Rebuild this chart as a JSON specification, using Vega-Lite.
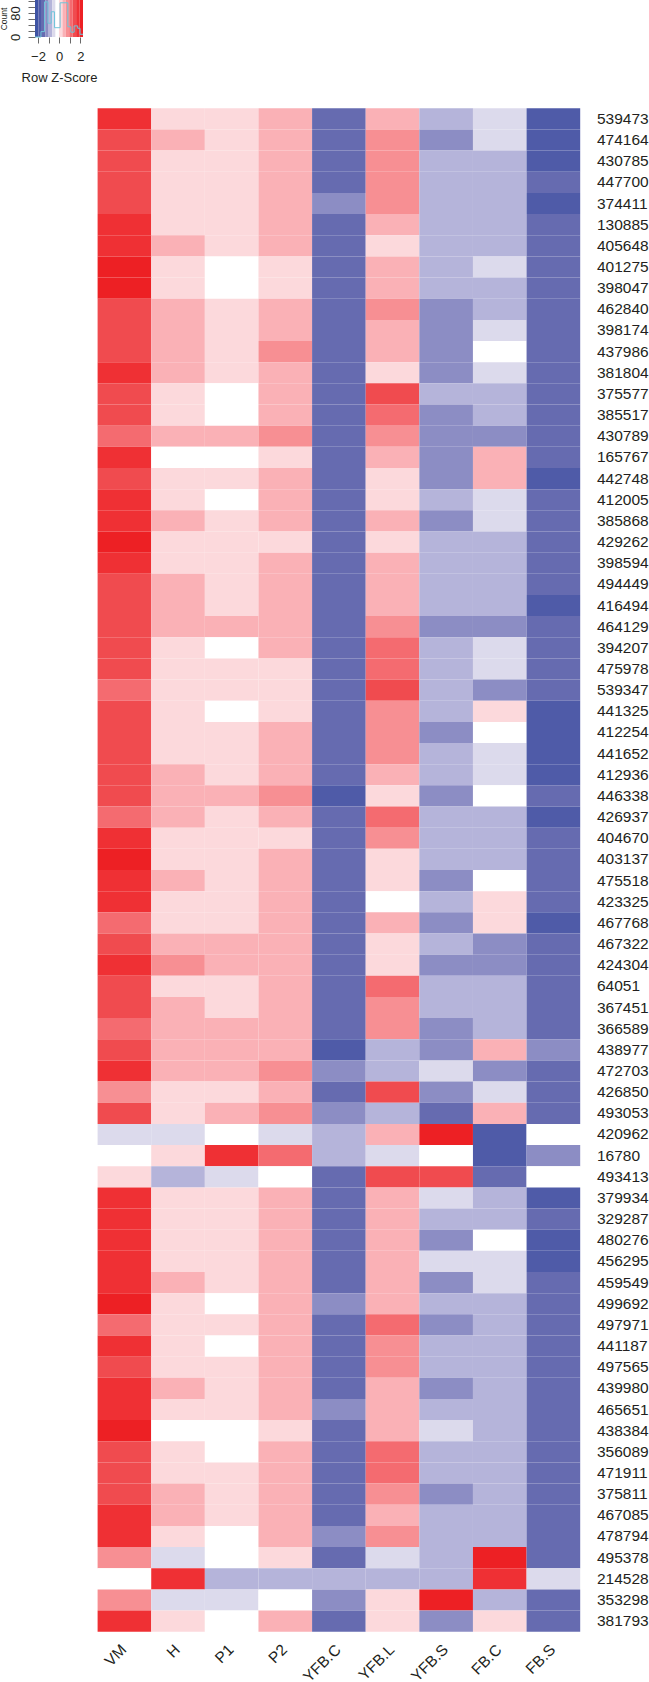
{"$schema":"https://vega.github.io/schema/vega-lite/v6.json","width":649,"height":1682,"padding":0,"autosize":{"type":"none"},"background":"white","config":{"view":{"stroke":null},"font":"Liberation Sans","axis":{"grid":false,"labelFont":"Liberation Sans","titleFont":"Liberation Sans","labelColor":"#231f20","titleColor":"#231f20"}},
"datasets":{"cells":[
{"gene":"539473","sample":"VM","z":2},{"gene":"539473","sample":"H","z":0.3},{"gene":"539473","sample":"P1","z":0.3},{"gene":"539473","sample":"P2","z":0.7},{"gene":"539473","sample":"YFB.C","z":-1.3},{"gene":"539473","sample":"YFB.L","z":0.7},{"gene":"539473","sample":"YFB.S","z":-0.7},{"gene":"539473","sample":"FB.C","z":-0.3},{"gene":"539473","sample":"FB.S","z":-1.7},
{"gene":"474164","sample":"VM","z":1.7},{"gene":"474164","sample":"H","z":0.7},{"gene":"474164","sample":"P1","z":0.3},{"gene":"474164","sample":"P2","z":0.7},{"gene":"474164","sample":"YFB.C","z":-1.3},{"gene":"474164","sample":"YFB.L","z":1},{"gene":"474164","sample":"YFB.S","z":-1},{"gene":"474164","sample":"FB.C","z":-0.3},{"gene":"474164","sample":"FB.S","z":-1.7},
{"gene":"430785","sample":"VM","z":1.7},{"gene":"430785","sample":"H","z":0.3},{"gene":"430785","sample":"P1","z":0.3},{"gene":"430785","sample":"P2","z":0.7},{"gene":"430785","sample":"YFB.C","z":-1.3},{"gene":"430785","sample":"YFB.L","z":1},{"gene":"430785","sample":"YFB.S","z":-0.7},{"gene":"430785","sample":"FB.C","z":-0.7},{"gene":"430785","sample":"FB.S","z":-1.7},
{"gene":"447700","sample":"VM","z":1.7},{"gene":"447700","sample":"H","z":0.3},{"gene":"447700","sample":"P1","z":0.3},{"gene":"447700","sample":"P2","z":0.7},{"gene":"447700","sample":"YFB.C","z":-1.3},{"gene":"447700","sample":"YFB.L","z":1},{"gene":"447700","sample":"YFB.S","z":-0.7},{"gene":"447700","sample":"FB.C","z":-0.7},{"gene":"447700","sample":"FB.S","z":-1.3},
{"gene":"374411","sample":"VM","z":1.7},{"gene":"374411","sample":"H","z":0.3},{"gene":"374411","sample":"P1","z":0.3},{"gene":"374411","sample":"P2","z":0.7},{"gene":"374411","sample":"YFB.C","z":-1},{"gene":"374411","sample":"YFB.L","z":1},{"gene":"374411","sample":"YFB.S","z":-0.7},{"gene":"374411","sample":"FB.C","z":-0.7},{"gene":"374411","sample":"FB.S","z":-1.7},
{"gene":"130885","sample":"VM","z":2},{"gene":"130885","sample":"H","z":0.3},{"gene":"130885","sample":"P1","z":0.3},{"gene":"130885","sample":"P2","z":0.7},{"gene":"130885","sample":"YFB.C","z":-1.3},{"gene":"130885","sample":"YFB.L","z":0.7},{"gene":"130885","sample":"YFB.S","z":-0.7},{"gene":"130885","sample":"FB.C","z":-0.7},{"gene":"130885","sample":"FB.S","z":-1.3},
{"gene":"405648","sample":"VM","z":2},{"gene":"405648","sample":"H","z":0.7},{"gene":"405648","sample":"P1","z":0.3},{"gene":"405648","sample":"P2","z":0.7},{"gene":"405648","sample":"YFB.C","z":-1.3},{"gene":"405648","sample":"YFB.L","z":0.3},{"gene":"405648","sample":"YFB.S","z":-0.7},{"gene":"405648","sample":"FB.C","z":-0.7},{"gene":"405648","sample":"FB.S","z":-1.3},
{"gene":"401275","sample":"VM","z":2.3},{"gene":"401275","sample":"H","z":0.3},{"gene":"401275","sample":"P1","z":0},{"gene":"401275","sample":"P2","z":0.3},{"gene":"401275","sample":"YFB.C","z":-1.3},{"gene":"401275","sample":"YFB.L","z":0.7},{"gene":"401275","sample":"YFB.S","z":-0.7},{"gene":"401275","sample":"FB.C","z":-0.3},{"gene":"401275","sample":"FB.S","z":-1.3},
{"gene":"398047","sample":"VM","z":2.3},{"gene":"398047","sample":"H","z":0.3},{"gene":"398047","sample":"P1","z":0},{"gene":"398047","sample":"P2","z":0.3},{"gene":"398047","sample":"YFB.C","z":-1.3},{"gene":"398047","sample":"YFB.L","z":0.7},{"gene":"398047","sample":"YFB.S","z":-0.7},{"gene":"398047","sample":"FB.C","z":-0.7},{"gene":"398047","sample":"FB.S","z":-1.3},
{"gene":"462840","sample":"VM","z":1.7},{"gene":"462840","sample":"H","z":0.7},{"gene":"462840","sample":"P1","z":0.3},{"gene":"462840","sample":"P2","z":0.7},{"gene":"462840","sample":"YFB.C","z":-1.3},{"gene":"462840","sample":"YFB.L","z":1},{"gene":"462840","sample":"YFB.S","z":-1},{"gene":"462840","sample":"FB.C","z":-0.7},{"gene":"462840","sample":"FB.S","z":-1.3},
{"gene":"398174","sample":"VM","z":1.7},{"gene":"398174","sample":"H","z":0.7},{"gene":"398174","sample":"P1","z":0.3},{"gene":"398174","sample":"P2","z":0.7},{"gene":"398174","sample":"YFB.C","z":-1.3},{"gene":"398174","sample":"YFB.L","z":0.7},{"gene":"398174","sample":"YFB.S","z":-1},{"gene":"398174","sample":"FB.C","z":-0.3},{"gene":"398174","sample":"FB.S","z":-1.3},
{"gene":"437986","sample":"VM","z":1.7},{"gene":"437986","sample":"H","z":0.7},{"gene":"437986","sample":"P1","z":0.3},{"gene":"437986","sample":"P2","z":1},{"gene":"437986","sample":"YFB.C","z":-1.3},{"gene":"437986","sample":"YFB.L","z":0.7},{"gene":"437986","sample":"YFB.S","z":-1},{"gene":"437986","sample":"FB.C","z":0},{"gene":"437986","sample":"FB.S","z":-1.3},
{"gene":"381804","sample":"VM","z":2},{"gene":"381804","sample":"H","z":0.7},{"gene":"381804","sample":"P1","z":0.3},{"gene":"381804","sample":"P2","z":0.7},{"gene":"381804","sample":"YFB.C","z":-1.3},{"gene":"381804","sample":"YFB.L","z":0.3},{"gene":"381804","sample":"YFB.S","z":-1},{"gene":"381804","sample":"FB.C","z":-0.3},{"gene":"381804","sample":"FB.S","z":-1.3},
{"gene":"375577","sample":"VM","z":1.7},{"gene":"375577","sample":"H","z":0.3},{"gene":"375577","sample":"P1","z":0},{"gene":"375577","sample":"P2","z":0.7},{"gene":"375577","sample":"YFB.C","z":-1.3},{"gene":"375577","sample":"YFB.L","z":1.7},{"gene":"375577","sample":"YFB.S","z":-0.7},{"gene":"375577","sample":"FB.C","z":-0.7},{"gene":"375577","sample":"FB.S","z":-1.3},
{"gene":"385517","sample":"VM","z":1.7},{"gene":"385517","sample":"H","z":0.3},{"gene":"385517","sample":"P1","z":0},{"gene":"385517","sample":"P2","z":0.7},{"gene":"385517","sample":"YFB.C","z":-1.3},{"gene":"385517","sample":"YFB.L","z":1.3},{"gene":"385517","sample":"YFB.S","z":-1},{"gene":"385517","sample":"FB.C","z":-0.7},{"gene":"385517","sample":"FB.S","z":-1.3},
{"gene":"430789","sample":"VM","z":1.3},{"gene":"430789","sample":"H","z":0.7},{"gene":"430789","sample":"P1","z":0.7},{"gene":"430789","sample":"P2","z":1},{"gene":"430789","sample":"YFB.C","z":-1.3},{"gene":"430789","sample":"YFB.L","z":1},{"gene":"430789","sample":"YFB.S","z":-1},{"gene":"430789","sample":"FB.C","z":-1},{"gene":"430789","sample":"FB.S","z":-1.3},
{"gene":"165767","sample":"VM","z":2},{"gene":"165767","sample":"H","z":0},{"gene":"165767","sample":"P1","z":0},{"gene":"165767","sample":"P2","z":0.3},{"gene":"165767","sample":"YFB.C","z":-1.3},{"gene":"165767","sample":"YFB.L","z":0.7},{"gene":"165767","sample":"YFB.S","z":-1},{"gene":"165767","sample":"FB.C","z":0.7},{"gene":"165767","sample":"FB.S","z":-1.3},
{"gene":"442748","sample":"VM","z":1.7},{"gene":"442748","sample":"H","z":0.3},{"gene":"442748","sample":"P1","z":0.3},{"gene":"442748","sample":"P2","z":0.7},{"gene":"442748","sample":"YFB.C","z":-1.3},{"gene":"442748","sample":"YFB.L","z":0.3},{"gene":"442748","sample":"YFB.S","z":-1},{"gene":"442748","sample":"FB.C","z":0.7},{"gene":"442748","sample":"FB.S","z":-1.7},
{"gene":"412005","sample":"VM","z":2},{"gene":"412005","sample":"H","z":0.3},{"gene":"412005","sample":"P1","z":0},{"gene":"412005","sample":"P2","z":0.7},{"gene":"412005","sample":"YFB.C","z":-1.3},{"gene":"412005","sample":"YFB.L","z":0.3},{"gene":"412005","sample":"YFB.S","z":-0.7},{"gene":"412005","sample":"FB.C","z":-0.3},{"gene":"412005","sample":"FB.S","z":-1.3},
{"gene":"385868","sample":"VM","z":2},{"gene":"385868","sample":"H","z":0.7},{"gene":"385868","sample":"P1","z":0.3},{"gene":"385868","sample":"P2","z":0.7},{"gene":"385868","sample":"YFB.C","z":-1.3},{"gene":"385868","sample":"YFB.L","z":0.7},{"gene":"385868","sample":"YFB.S","z":-1},{"gene":"385868","sample":"FB.C","z":-0.3},{"gene":"385868","sample":"FB.S","z":-1.3},
{"gene":"429262","sample":"VM","z":2.3},{"gene":"429262","sample":"H","z":0.3},{"gene":"429262","sample":"P1","z":0.3},{"gene":"429262","sample":"P2","z":0.3},{"gene":"429262","sample":"YFB.C","z":-1.3},{"gene":"429262","sample":"YFB.L","z":0.3},{"gene":"429262","sample":"YFB.S","z":-0.7},{"gene":"429262","sample":"FB.C","z":-0.7},{"gene":"429262","sample":"FB.S","z":-1.3},
{"gene":"398594","sample":"VM","z":2},{"gene":"398594","sample":"H","z":0.3},{"gene":"398594","sample":"P1","z":0.3},{"gene":"398594","sample":"P2","z":0.7},{"gene":"398594","sample":"YFB.C","z":-1.3},{"gene":"398594","sample":"YFB.L","z":0.7},{"gene":"398594","sample":"YFB.S","z":-0.7},{"gene":"398594","sample":"FB.C","z":-0.7},{"gene":"398594","sample":"FB.S","z":-1.3},
{"gene":"494449","sample":"VM","z":1.7},{"gene":"494449","sample":"H","z":0.7},{"gene":"494449","sample":"P1","z":0.3},{"gene":"494449","sample":"P2","z":0.7},{"gene":"494449","sample":"YFB.C","z":-1.3},{"gene":"494449","sample":"YFB.L","z":0.7},{"gene":"494449","sample":"YFB.S","z":-0.7},{"gene":"494449","sample":"FB.C","z":-0.7},{"gene":"494449","sample":"FB.S","z":-1.3},
{"gene":"416494","sample":"VM","z":1.7},{"gene":"416494","sample":"H","z":0.7},{"gene":"416494","sample":"P1","z":0.3},{"gene":"416494","sample":"P2","z":0.7},{"gene":"416494","sample":"YFB.C","z":-1.3},{"gene":"416494","sample":"YFB.L","z":0.7},{"gene":"416494","sample":"YFB.S","z":-0.7},{"gene":"416494","sample":"FB.C","z":-0.7},{"gene":"416494","sample":"FB.S","z":-1.7},
{"gene":"464129","sample":"VM","z":1.7},{"gene":"464129","sample":"H","z":0.7},{"gene":"464129","sample":"P1","z":0.7},{"gene":"464129","sample":"P2","z":0.7},{"gene":"464129","sample":"YFB.C","z":-1.3},{"gene":"464129","sample":"YFB.L","z":1},{"gene":"464129","sample":"YFB.S","z":-1},{"gene":"464129","sample":"FB.C","z":-1},{"gene":"464129","sample":"FB.S","z":-1.3},
{"gene":"394207","sample":"VM","z":1.7},{"gene":"394207","sample":"H","z":0.3},{"gene":"394207","sample":"P1","z":0},{"gene":"394207","sample":"P2","z":0.7},{"gene":"394207","sample":"YFB.C","z":-1.3},{"gene":"394207","sample":"YFB.L","z":1.3},{"gene":"394207","sample":"YFB.S","z":-0.7},{"gene":"394207","sample":"FB.C","z":-0.3},{"gene":"394207","sample":"FB.S","z":-1.3},
{"gene":"475978","sample":"VM","z":1.7},{"gene":"475978","sample":"H","z":0.3},{"gene":"475978","sample":"P1","z":0.3},{"gene":"475978","sample":"P2","z":0.3},{"gene":"475978","sample":"YFB.C","z":-1.3},{"gene":"475978","sample":"YFB.L","z":1.3},{"gene":"475978","sample":"YFB.S","z":-0.7},{"gene":"475978","sample":"FB.C","z":-0.3},{"gene":"475978","sample":"FB.S","z":-1.3},
{"gene":"539347","sample":"VM","z":1.3},{"gene":"539347","sample":"H","z":0.3},{"gene":"539347","sample":"P1","z":0.3},{"gene":"539347","sample":"P2","z":0.3},{"gene":"539347","sample":"YFB.C","z":-1.3},{"gene":"539347","sample":"YFB.L","z":1.7},{"gene":"539347","sample":"YFB.S","z":-0.7},{"gene":"539347","sample":"FB.C","z":-1},{"gene":"539347","sample":"FB.S","z":-1.3},
{"gene":"441325","sample":"VM","z":1.7},{"gene":"441325","sample":"H","z":0.3},{"gene":"441325","sample":"P1","z":0},{"gene":"441325","sample":"P2","z":0.3},{"gene":"441325","sample":"YFB.C","z":-1.3},{"gene":"441325","sample":"YFB.L","z":1},{"gene":"441325","sample":"YFB.S","z":-0.7},{"gene":"441325","sample":"FB.C","z":0.3},{"gene":"441325","sample":"FB.S","z":-1.7},
{"gene":"412254","sample":"VM","z":1.7},{"gene":"412254","sample":"H","z":0.3},{"gene":"412254","sample":"P1","z":0.3},{"gene":"412254","sample":"P2","z":0.7},{"gene":"412254","sample":"YFB.C","z":-1.3},{"gene":"412254","sample":"YFB.L","z":1},{"gene":"412254","sample":"YFB.S","z":-1},{"gene":"412254","sample":"FB.C","z":0},{"gene":"412254","sample":"FB.S","z":-1.7},
{"gene":"441652","sample":"VM","z":1.7},{"gene":"441652","sample":"H","z":0.3},{"gene":"441652","sample":"P1","z":0.3},{"gene":"441652","sample":"P2","z":0.7},{"gene":"441652","sample":"YFB.C","z":-1.3},{"gene":"441652","sample":"YFB.L","z":1},{"gene":"441652","sample":"YFB.S","z":-0.7},{"gene":"441652","sample":"FB.C","z":-0.3},{"gene":"441652","sample":"FB.S","z":-1.7},
{"gene":"412936","sample":"VM","z":1.7},{"gene":"412936","sample":"H","z":0.7},{"gene":"412936","sample":"P1","z":0.3},{"gene":"412936","sample":"P2","z":0.7},{"gene":"412936","sample":"YFB.C","z":-1.3},{"gene":"412936","sample":"YFB.L","z":0.7},{"gene":"412936","sample":"YFB.S","z":-0.7},{"gene":"412936","sample":"FB.C","z":-0.3},{"gene":"412936","sample":"FB.S","z":-1.7},
{"gene":"446338","sample":"VM","z":1.7},{"gene":"446338","sample":"H","z":0.7},{"gene":"446338","sample":"P1","z":0.7},{"gene":"446338","sample":"P2","z":1},{"gene":"446338","sample":"YFB.C","z":-1.7},{"gene":"446338","sample":"YFB.L","z":0.3},{"gene":"446338","sample":"YFB.S","z":-1},{"gene":"446338","sample":"FB.C","z":0},{"gene":"446338","sample":"FB.S","z":-1.3},
{"gene":"426937","sample":"VM","z":1.3},{"gene":"426937","sample":"H","z":0.7},{"gene":"426937","sample":"P1","z":0.3},{"gene":"426937","sample":"P2","z":0.7},{"gene":"426937","sample":"YFB.C","z":-1.3},{"gene":"426937","sample":"YFB.L","z":1.3},{"gene":"426937","sample":"YFB.S","z":-0.7},{"gene":"426937","sample":"FB.C","z":-0.7},{"gene":"426937","sample":"FB.S","z":-1.7},
{"gene":"404670","sample":"VM","z":2},{"gene":"404670","sample":"H","z":0.3},{"gene":"404670","sample":"P1","z":0.3},{"gene":"404670","sample":"P2","z":0.3},{"gene":"404670","sample":"YFB.C","z":-1.3},{"gene":"404670","sample":"YFB.L","z":1},{"gene":"404670","sample":"YFB.S","z":-0.7},{"gene":"404670","sample":"FB.C","z":-0.7},{"gene":"404670","sample":"FB.S","z":-1.3},
{"gene":"403137","sample":"VM","z":2.3},{"gene":"403137","sample":"H","z":0.3},{"gene":"403137","sample":"P1","z":0.3},{"gene":"403137","sample":"P2","z":0.7},{"gene":"403137","sample":"YFB.C","z":-1.3},{"gene":"403137","sample":"YFB.L","z":0.3},{"gene":"403137","sample":"YFB.S","z":-0.7},{"gene":"403137","sample":"FB.C","z":-0.7},{"gene":"403137","sample":"FB.S","z":-1.3},
{"gene":"475518","sample":"VM","z":2},{"gene":"475518","sample":"H","z":0.7},{"gene":"475518","sample":"P1","z":0.3},{"gene":"475518","sample":"P2","z":0.7},{"gene":"475518","sample":"YFB.C","z":-1.3},{"gene":"475518","sample":"YFB.L","z":0.3},{"gene":"475518","sample":"YFB.S","z":-1},{"gene":"475518","sample":"FB.C","z":0},{"gene":"475518","sample":"FB.S","z":-1.3},
{"gene":"423325","sample":"VM","z":2},{"gene":"423325","sample":"H","z":0.3},{"gene":"423325","sample":"P1","z":0.3},{"gene":"423325","sample":"P2","z":0.7},{"gene":"423325","sample":"YFB.C","z":-1.3},{"gene":"423325","sample":"YFB.L","z":0},{"gene":"423325","sample":"YFB.S","z":-0.7},{"gene":"423325","sample":"FB.C","z":0.3},{"gene":"423325","sample":"FB.S","z":-1.3},
{"gene":"467768","sample":"VM","z":1.3},{"gene":"467768","sample":"H","z":0.3},{"gene":"467768","sample":"P1","z":0.3},{"gene":"467768","sample":"P2","z":0.7},{"gene":"467768","sample":"YFB.C","z":-1.3},{"gene":"467768","sample":"YFB.L","z":0.7},{"gene":"467768","sample":"YFB.S","z":-1},{"gene":"467768","sample":"FB.C","z":0.3},{"gene":"467768","sample":"FB.S","z":-1.7},
{"gene":"467322","sample":"VM","z":1.7},{"gene":"467322","sample":"H","z":0.7},{"gene":"467322","sample":"P1","z":0.7},{"gene":"467322","sample":"P2","z":0.7},{"gene":"467322","sample":"YFB.C","z":-1.3},{"gene":"467322","sample":"YFB.L","z":0.3},{"gene":"467322","sample":"YFB.S","z":-0.7},{"gene":"467322","sample":"FB.C","z":-1},{"gene":"467322","sample":"FB.S","z":-1.3},
{"gene":"424304","sample":"VM","z":2},{"gene":"424304","sample":"H","z":1},{"gene":"424304","sample":"P1","z":0.7},{"gene":"424304","sample":"P2","z":0.7},{"gene":"424304","sample":"YFB.C","z":-1.3},{"gene":"424304","sample":"YFB.L","z":0.3},{"gene":"424304","sample":"YFB.S","z":-1},{"gene":"424304","sample":"FB.C","z":-1},{"gene":"424304","sample":"FB.S","z":-1.3},
{"gene":"64051","sample":"VM","z":1.7},{"gene":"64051","sample":"H","z":0.3},{"gene":"64051","sample":"P1","z":0.3},{"gene":"64051","sample":"P2","z":0.7},{"gene":"64051","sample":"YFB.C","z":-1.3},{"gene":"64051","sample":"YFB.L","z":1.3},{"gene":"64051","sample":"YFB.S","z":-0.7},{"gene":"64051","sample":"FB.C","z":-0.7},{"gene":"64051","sample":"FB.S","z":-1.3},
{"gene":"367451","sample":"VM","z":1.7},{"gene":"367451","sample":"H","z":0.7},{"gene":"367451","sample":"P1","z":0.3},{"gene":"367451","sample":"P2","z":0.7},{"gene":"367451","sample":"YFB.C","z":-1.3},{"gene":"367451","sample":"YFB.L","z":1},{"gene":"367451","sample":"YFB.S","z":-0.7},{"gene":"367451","sample":"FB.C","z":-0.7},{"gene":"367451","sample":"FB.S","z":-1.3},
{"gene":"366589","sample":"VM","z":1.3},{"gene":"366589","sample":"H","z":0.7},{"gene":"366589","sample":"P1","z":0.7},{"gene":"366589","sample":"P2","z":0.7},{"gene":"366589","sample":"YFB.C","z":-1.3},{"gene":"366589","sample":"YFB.L","z":1},{"gene":"366589","sample":"YFB.S","z":-1},{"gene":"366589","sample":"FB.C","z":-0.7},{"gene":"366589","sample":"FB.S","z":-1.3},
{"gene":"438977","sample":"VM","z":1.7},{"gene":"438977","sample":"H","z":0.7},{"gene":"438977","sample":"P1","z":0.7},{"gene":"438977","sample":"P2","z":0.7},{"gene":"438977","sample":"YFB.C","z":-1.7},{"gene":"438977","sample":"YFB.L","z":-0.7},{"gene":"438977","sample":"YFB.S","z":-1},{"gene":"438977","sample":"FB.C","z":0.7},{"gene":"438977","sample":"FB.S","z":-1},
{"gene":"472703","sample":"VM","z":2},{"gene":"472703","sample":"H","z":0.7},{"gene":"472703","sample":"P1","z":0.7},{"gene":"472703","sample":"P2","z":1},{"gene":"472703","sample":"YFB.C","z":-1},{"gene":"472703","sample":"YFB.L","z":-0.7},{"gene":"472703","sample":"YFB.S","z":-0.3},{"gene":"472703","sample":"FB.C","z":-1},{"gene":"472703","sample":"FB.S","z":-1.3},
{"gene":"426850","sample":"VM","z":1},{"gene":"426850","sample":"H","z":0.3},{"gene":"426850","sample":"P1","z":0.3},{"gene":"426850","sample":"P2","z":0.7},{"gene":"426850","sample":"YFB.C","z":-1.3},{"gene":"426850","sample":"YFB.L","z":1.7},{"gene":"426850","sample":"YFB.S","z":-1},{"gene":"426850","sample":"FB.C","z":-0.3},{"gene":"426850","sample":"FB.S","z":-1.3},
{"gene":"493053","sample":"VM","z":1.7},{"gene":"493053","sample":"H","z":0.3},{"gene":"493053","sample":"P1","z":0.7},{"gene":"493053","sample":"P2","z":1},{"gene":"493053","sample":"YFB.C","z":-1},{"gene":"493053","sample":"YFB.L","z":-0.7},{"gene":"493053","sample":"YFB.S","z":-1.3},{"gene":"493053","sample":"FB.C","z":0.7},{"gene":"493053","sample":"FB.S","z":-1.3},
{"gene":"420962","sample":"VM","z":-0.3},{"gene":"420962","sample":"H","z":-0.3},{"gene":"420962","sample":"P1","z":0},{"gene":"420962","sample":"P2","z":-0.3},{"gene":"420962","sample":"YFB.C","z":-0.7},{"gene":"420962","sample":"YFB.L","z":0.7},{"gene":"420962","sample":"YFB.S","z":2.3},{"gene":"420962","sample":"FB.C","z":-1.7},{"gene":"420962","sample":"FB.S","z":0},
{"gene":"16780","sample":"VM","z":0},{"gene":"16780","sample":"H","z":0.3},{"gene":"16780","sample":"P1","z":2},{"gene":"16780","sample":"P2","z":1.3},{"gene":"16780","sample":"YFB.C","z":-0.7},{"gene":"16780","sample":"YFB.L","z":-0.3},{"gene":"16780","sample":"YFB.S","z":0},{"gene":"16780","sample":"FB.C","z":-1.7},{"gene":"16780","sample":"FB.S","z":-1},
{"gene":"493413","sample":"VM","z":0.3},{"gene":"493413","sample":"H","z":-0.7},{"gene":"493413","sample":"P1","z":-0.3},{"gene":"493413","sample":"P2","z":0},{"gene":"493413","sample":"YFB.C","z":-1.3},{"gene":"493413","sample":"YFB.L","z":1.7},{"gene":"493413","sample":"YFB.S","z":1.7},{"gene":"493413","sample":"FB.C","z":-1.3},{"gene":"493413","sample":"FB.S","z":0},
{"gene":"379934","sample":"VM","z":2},{"gene":"379934","sample":"H","z":0.3},{"gene":"379934","sample":"P1","z":0.3},{"gene":"379934","sample":"P2","z":0.7},{"gene":"379934","sample":"YFB.C","z":-1.3},{"gene":"379934","sample":"YFB.L","z":0.7},{"gene":"379934","sample":"YFB.S","z":-0.3},{"gene":"379934","sample":"FB.C","z":-0.7},{"gene":"379934","sample":"FB.S","z":-1.7},
{"gene":"329287","sample":"VM","z":2},{"gene":"329287","sample":"H","z":0.3},{"gene":"329287","sample":"P1","z":0.3},{"gene":"329287","sample":"P2","z":0.7},{"gene":"329287","sample":"YFB.C","z":-1.3},{"gene":"329287","sample":"YFB.L","z":0.7},{"gene":"329287","sample":"YFB.S","z":-0.7},{"gene":"329287","sample":"FB.C","z":-0.7},{"gene":"329287","sample":"FB.S","z":-1.3},
{"gene":"480276","sample":"VM","z":2},{"gene":"480276","sample":"H","z":0.3},{"gene":"480276","sample":"P1","z":0.3},{"gene":"480276","sample":"P2","z":0.7},{"gene":"480276","sample":"YFB.C","z":-1.3},{"gene":"480276","sample":"YFB.L","z":0.7},{"gene":"480276","sample":"YFB.S","z":-1},{"gene":"480276","sample":"FB.C","z":0},{"gene":"480276","sample":"FB.S","z":-1.7},
{"gene":"456295","sample":"VM","z":2},{"gene":"456295","sample":"H","z":0.3},{"gene":"456295","sample":"P1","z":0.3},{"gene":"456295","sample":"P2","z":0.7},{"gene":"456295","sample":"YFB.C","z":-1.3},{"gene":"456295","sample":"YFB.L","z":0.7},{"gene":"456295","sample":"YFB.S","z":-0.3},{"gene":"456295","sample":"FB.C","z":-0.3},{"gene":"456295","sample":"FB.S","z":-1.7},
{"gene":"459549","sample":"VM","z":2},{"gene":"459549","sample":"H","z":0.7},{"gene":"459549","sample":"P1","z":0.3},{"gene":"459549","sample":"P2","z":0.7},{"gene":"459549","sample":"YFB.C","z":-1.3},{"gene":"459549","sample":"YFB.L","z":0.7},{"gene":"459549","sample":"YFB.S","z":-1},{"gene":"459549","sample":"FB.C","z":-0.3},{"gene":"459549","sample":"FB.S","z":-1.3},
{"gene":"499692","sample":"VM","z":2.3},{"gene":"499692","sample":"H","z":0.3},{"gene":"499692","sample":"P1","z":0},{"gene":"499692","sample":"P2","z":0.7},{"gene":"499692","sample":"YFB.C","z":-1},{"gene":"499692","sample":"YFB.L","z":0.7},{"gene":"499692","sample":"YFB.S","z":-0.7},{"gene":"499692","sample":"FB.C","z":-0.7},{"gene":"499692","sample":"FB.S","z":-1.3},
{"gene":"497971","sample":"VM","z":1.3},{"gene":"497971","sample":"H","z":0.3},{"gene":"497971","sample":"P1","z":0.3},{"gene":"497971","sample":"P2","z":0.7},{"gene":"497971","sample":"YFB.C","z":-1.3},{"gene":"497971","sample":"YFB.L","z":1.3},{"gene":"497971","sample":"YFB.S","z":-1},{"gene":"497971","sample":"FB.C","z":-0.7},{"gene":"497971","sample":"FB.S","z":-1.3},
{"gene":"441187","sample":"VM","z":2},{"gene":"441187","sample":"H","z":0.3},{"gene":"441187","sample":"P1","z":0},{"gene":"441187","sample":"P2","z":0.7},{"gene":"441187","sample":"YFB.C","z":-1.3},{"gene":"441187","sample":"YFB.L","z":1},{"gene":"441187","sample":"YFB.S","z":-0.7},{"gene":"441187","sample":"FB.C","z":-0.7},{"gene":"441187","sample":"FB.S","z":-1.3},
{"gene":"497565","sample":"VM","z":1.7},{"gene":"497565","sample":"H","z":0.3},{"gene":"497565","sample":"P1","z":0.3},{"gene":"497565","sample":"P2","z":0.7},{"gene":"497565","sample":"YFB.C","z":-1.3},{"gene":"497565","sample":"YFB.L","z":1},{"gene":"497565","sample":"YFB.S","z":-0.7},{"gene":"497565","sample":"FB.C","z":-0.7},{"gene":"497565","sample":"FB.S","z":-1.3},
{"gene":"439980","sample":"VM","z":2},{"gene":"439980","sample":"H","z":0.7},{"gene":"439980","sample":"P1","z":0.3},{"gene":"439980","sample":"P2","z":0.7},{"gene":"439980","sample":"YFB.C","z":-1.3},{"gene":"439980","sample":"YFB.L","z":0.7},{"gene":"439980","sample":"YFB.S","z":-1},{"gene":"439980","sample":"FB.C","z":-0.7},{"gene":"439980","sample":"FB.S","z":-1.3},
{"gene":"465651","sample":"VM","z":2},{"gene":"465651","sample":"H","z":0.3},{"gene":"465651","sample":"P1","z":0.3},{"gene":"465651","sample":"P2","z":0.7},{"gene":"465651","sample":"YFB.C","z":-1},{"gene":"465651","sample":"YFB.L","z":0.7},{"gene":"465651","sample":"YFB.S","z":-0.7},{"gene":"465651","sample":"FB.C","z":-0.7},{"gene":"465651","sample":"FB.S","z":-1.3},
{"gene":"438384","sample":"VM","z":2.3},{"gene":"438384","sample":"H","z":0},{"gene":"438384","sample":"P1","z":0},{"gene":"438384","sample":"P2","z":0.3},{"gene":"438384","sample":"YFB.C","z":-1.3},{"gene":"438384","sample":"YFB.L","z":0.7},{"gene":"438384","sample":"YFB.S","z":-0.3},{"gene":"438384","sample":"FB.C","z":-0.7},{"gene":"438384","sample":"FB.S","z":-1.3},
{"gene":"356089","sample":"VM","z":1.7},{"gene":"356089","sample":"H","z":0.3},{"gene":"356089","sample":"P1","z":0},{"gene":"356089","sample":"P2","z":0.7},{"gene":"356089","sample":"YFB.C","z":-1.3},{"gene":"356089","sample":"YFB.L","z":1.3},{"gene":"356089","sample":"YFB.S","z":-0.7},{"gene":"356089","sample":"FB.C","z":-0.7},{"gene":"356089","sample":"FB.S","z":-1.3},
{"gene":"471911","sample":"VM","z":1.7},{"gene":"471911","sample":"H","z":0.3},{"gene":"471911","sample":"P1","z":0.3},{"gene":"471911","sample":"P2","z":0.7},{"gene":"471911","sample":"YFB.C","z":-1.3},{"gene":"471911","sample":"YFB.L","z":1.3},{"gene":"471911","sample":"YFB.S","z":-0.7},{"gene":"471911","sample":"FB.C","z":-0.7},{"gene":"471911","sample":"FB.S","z":-1.3},
{"gene":"375811","sample":"VM","z":1.7},{"gene":"375811","sample":"H","z":0.7},{"gene":"375811","sample":"P1","z":0.3},{"gene":"375811","sample":"P2","z":0.7},{"gene":"375811","sample":"YFB.C","z":-1.3},{"gene":"375811","sample":"YFB.L","z":1},{"gene":"375811","sample":"YFB.S","z":-1},{"gene":"375811","sample":"FB.C","z":-0.7},{"gene":"375811","sample":"FB.S","z":-1.3},
{"gene":"467085","sample":"VM","z":2},{"gene":"467085","sample":"H","z":0.7},{"gene":"467085","sample":"P1","z":0.3},{"gene":"467085","sample":"P2","z":0.7},{"gene":"467085","sample":"YFB.C","z":-1.3},{"gene":"467085","sample":"YFB.L","z":0.7},{"gene":"467085","sample":"YFB.S","z":-0.7},{"gene":"467085","sample":"FB.C","z":-0.7},{"gene":"467085","sample":"FB.S","z":-1.3},
{"gene":"478794","sample":"VM","z":2},{"gene":"478794","sample":"H","z":0.3},{"gene":"478794","sample":"P1","z":0},{"gene":"478794","sample":"P2","z":0.7},{"gene":"478794","sample":"YFB.C","z":-1},{"gene":"478794","sample":"YFB.L","z":1},{"gene":"478794","sample":"YFB.S","z":-0.7},{"gene":"478794","sample":"FB.C","z":-0.7},{"gene":"478794","sample":"FB.S","z":-1.3},
{"gene":"495378","sample":"VM","z":1},{"gene":"495378","sample":"H","z":-0.3},{"gene":"495378","sample":"P1","z":0},{"gene":"495378","sample":"P2","z":0.3},{"gene":"495378","sample":"YFB.C","z":-1.3},{"gene":"495378","sample":"YFB.L","z":-0.3},{"gene":"495378","sample":"YFB.S","z":-0.7},{"gene":"495378","sample":"FB.C","z":2.3},{"gene":"495378","sample":"FB.S","z":-1.3},
{"gene":"214528","sample":"VM","z":0},{"gene":"214528","sample":"H","z":2},{"gene":"214528","sample":"P1","z":-0.7},{"gene":"214528","sample":"P2","z":-0.7},{"gene":"214528","sample":"YFB.C","z":-0.7},{"gene":"214528","sample":"YFB.L","z":-0.7},{"gene":"214528","sample":"YFB.S","z":-0.7},{"gene":"214528","sample":"FB.C","z":2},{"gene":"214528","sample":"FB.S","z":-0.3},
{"gene":"353298","sample":"VM","z":1},{"gene":"353298","sample":"H","z":-0.3},{"gene":"353298","sample":"P1","z":-0.3},{"gene":"353298","sample":"P2","z":0},{"gene":"353298","sample":"YFB.C","z":-1},{"gene":"353298","sample":"YFB.L","z":0.3},{"gene":"353298","sample":"YFB.S","z":2.3},{"gene":"353298","sample":"FB.C","z":-0.7},{"gene":"353298","sample":"FB.S","z":-1.3},
{"gene":"381793","sample":"VM","z":2},{"gene":"381793","sample":"H","z":0.3},{"gene":"381793","sample":"P1","z":0},{"gene":"381793","sample":"P2","z":0.7},{"gene":"381793","sample":"YFB.C","z":-1.3},{"gene":"381793","sample":"YFB.L","z":0.3},{"gene":"381793","sample":"YFB.S","z":-1},{"gene":"381793","sample":"FB.C","z":0.3},{"gene":"381793","sample":"FB.S","z":-1.3}
],
"key":[{"lo":-2.28,"hi":-1.96,"z":-2},{"lo":-1.96,"hi":-1.63,"z":-1.7},{"lo":-1.63,"hi":-1.31,"z":-1.3},{"lo":-1.31,"hi":-0.99,"z":-1},{"lo":-0.99,"hi":-0.66,"z":-0.7},{"lo":-0.66,"hi":-0.34,"z":-0.3},{"lo":-0.34,"hi":-0.02,"z":0},{"lo":-0.02,"hi":0.31,"z":0.3},{"lo":0.31,"hi":0.63,"z":0.7},{"lo":0.63,"hi":0.95,"z":1},{"lo":0.95,"hi":1.28,"z":1.3},{"lo":1.28,"hi":1.6,"z":1.7},{"lo":1.6,"hi":1.93,"z":2},{"lo":1.93,"hi":2.25,"z":2.3}],
"hist":[{"z":-2.28,"count":0},{"z":-1.72,"count":18},{"z":-1.38,"count":117},{"z":-1.06,"count":46},{"z":-0.75,"count":84},{"z":-0.44,"count":31},{"z":0.09,"count":114},{"z":0.82,"count":34},{"z":1.1,"count":16},{"z":1.41,"count":37},{"z":1.75,"count":29},{"z":1.97,"count":9},{"z":2.25,"count":9}]},
"layer":[
{"data":{"name":"cells"},"mark":{"type":"rect"},"encoding":{
"x":{"field":"sample","type":"nominal","sort":null,"scale":{"type":"band","paddingInner":0,"paddingOuter":0,"range":[97.6,580.2]},"axis":{"orient":"bottom","offset":-50.3,"title":null,"domain":false,"ticks":false,"labelAngle":-45,"labelAlign":"right","labelBaseline":"middle","labelFontSize":15.5,"labelPadding":15,"labelOffset":-0.6}},
"y":{"field":"gene","type":"nominal","sort":null,"scale":{"type":"band","paddingInner":0,"paddingOuter":0,"range":[108.3,1631.7]},"axis":{"orient":"right","offset":-52.5,"title":null,"domain":false,"ticks":false,"labelAlign":"left","labelBaseline":"middle","labelFontSize":15.5,"labelPadding":0,"labelOverlap":false}},
"color":{"field":"z","type":"quantitative","legend":null,"scale":{"type":"threshold","domain":[-1.85,-1.5,-1.15,-0.85,-0.5,-0.15,0.15,0.5,0.85,1.15,1.5,1.85,2.15],"range":["#3f54a4","#4f5ba8","#666bb0","#8c8dc4","#b5b4da","#dcdaec","#ffffff","#fcd9dc","#fab1b6","#f78f93","#f46b70","#f04b4f","#ef3034","#ed2024"]}}}},
{"data":{"name":"key"},"mark":{"type":"rect"},"encoding":{
"x":{"field":"lo","type":"quantitative","scale":{"domain":[-2.28,2.25],"range":[35,83],"nice":false,"zero":false},"axis":{"orient":"bottom","offset":-1645,"values":[-2,-1,0,1,2],"title":"Row Z-Score","titleFontSize":13,"titleFontWeight":"normal","titlePadding":8,"labelFontSize":13,"labelPadding":7,"labelExpr":"datum.value%2==0?datum.label:''","domain":false,"tickColor":"#444444","tickSize":6,"tickWidth":0.8,"labelOverlap":false,"labelFlush":false}},
"x2":{"field":"hi"},
"y":{"datum":0,"type":"quantitative","scale":{"domain":[0,123.3],"range":[37,0],"nice":false,"zero":false},"axis":{"orient":"left","offset":-35,"values":[0,20,40,60,80,100,120],"title":"Count","titleFontSize":8.5,"titleFontWeight":"normal","titlePadding":0.5,"labelFontSize":13,"labelAngle":-90,"labelAlign":"center","labelBaseline":"bottom","labelPadding":6,"labelExpr":"datum.value==0||datum.value==80?datum.label:''","domain":false,"tickColor":"#444444","tickSize":7,"tickWidth":0.8,"labelOverlap":false,"labelFlush":false}},
"y2":{"datum":123.3},
"color":{"field":"z","type":"quantitative","legend":null,"scale":{"type":"threshold","domain":[-1.85,-1.5,-1.15,-0.85,-0.5,-0.15,0.15,0.5,0.85,1.15,1.5,1.85,2.15],"range":["#3f54a4","#4f5ba8","#666bb0","#8c8dc4","#b5b4da","#dcdaec","#ffffff","#fcd9dc","#fab1b6","#f78f93","#f46b70","#f04b4f","#ef3034","#ed2024"]}}}},
{"data":{"name":"hist"},"mark":{"type":"line","interpolate":"step-after","color":"#6fc5da","strokeWidth":1},"encoding":{
"x":{"field":"z","type":"quantitative","scale":{"domain":[-2.28,2.25],"range":[35,83],"nice":false,"zero":false},"axis":null},
"y":{"field":"count","type":"quantitative","scale":{"domain":[0,123.3],"range":[37,0],"nice":false,"zero":false},"axis":null}}}
],
"resolve":{"scale":{"x":"independent","y":"independent","color":"shared"},"axis":{"x":"independent","y":"independent"}}}
